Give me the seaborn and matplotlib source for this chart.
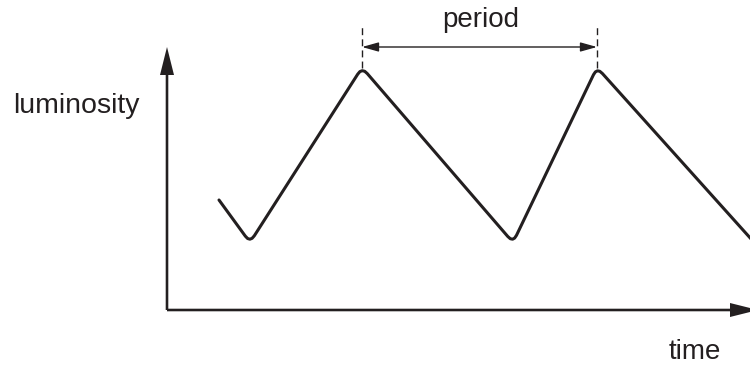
import matplotlib
matplotlib.use("Agg")
import matplotlib.pyplot as plt
import seaborn as sns

# light curve of a pulsating star (time from the luminosity axis, luminosity above the time axis)
# extra points near the maxima and minima follow the rounded turns of the drawn curve
time = [52,
        78.3, 80.6, 82.9, 85.1, 87.3,
        190.7, 192.9, 195.2, 197.7, 200.2,
        340.8, 343.3, 345.6, 347.6, 349.5,
        426.5, 428.4, 430.5, 432.8, 435.4,
        585]
luminosity = [110,
              73.9, 71.5, 70.8, 71.7, 74.2,
              235.8, 238.4, 239.3, 238.7, 236.5,
              73.5, 71.3, 70.8, 71.9, 74.7,
              235.3, 238.1, 239.2, 238.7, 236.5,
              70]

# the two maxima that mark one period
peaks = [195, 430]

ink = "#231f20"

sns.set_style("white")
plt.rcParams["font.family"] = ["Liberation Sans", "DejaVu Sans"]

fig = plt.figure(figsize=(7.5, 3.67), dpi=100)
ax = fig.add_axes([0, 0, 1, 1])
ax.set_xlim(-167, 583)
ax.set_ylim(-57, 310)
ax.axis("off")

sns.lineplot(x=time, y=luminosity, sort=False, estimator=None, color=ink,
             lw=2.2, ax=ax, solid_joinstyle="round", solid_capstyle="round")

# axes with filled arrowheads
ax.arrow(0, 0, 0, 263, width=2.6, head_width=14, head_length=28,
         length_includes_head=True, color=ink, lw=0)
ax.arrow(0, 0, 591, 0, width=2.6, head_width=14, head_length=28,
         length_includes_head=True, color=ink, lw=0)

# period marker
for p in peaks:
    ax.plot([p, p], [242, 286], color=ink, lw=1.0, dashes=(5, 3))
ax.annotate("", xy=(peaks[1], 263), xytext=(peaks[0], 263),
            arrowprops=dict(arrowstyle="<|-|>,head_length=1.0,head_width=0.28",
                            mutation_scale=10, lw=1.0, color=ink,
                            shrinkA=0, shrinkB=0))

ax.text(-27, 197, "luminosity", ha="right", va="baseline", fontsize=20.5, color=ink)
ax.text(314, 283, "period", ha="center", va="baseline", fontsize=20, color=ink)
ax.text(528, -49, "time", ha="center", va="baseline", fontsize=20, color=ink)

fig.savefig("out.png", dpi=100)
